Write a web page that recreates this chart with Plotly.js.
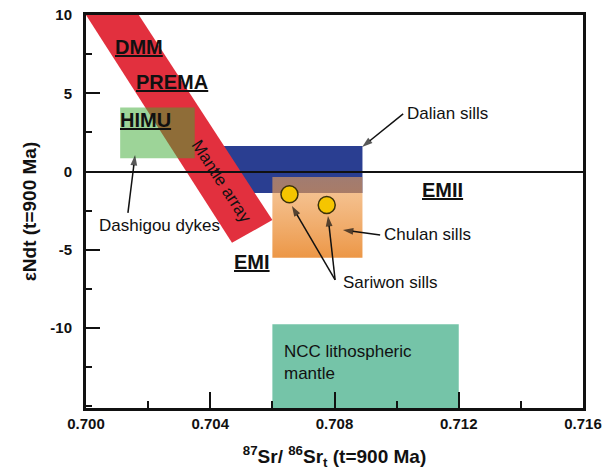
<!DOCTYPE html>
<html>
<head>
<meta charset="utf-8">
<script src="https://cdn.plot.ly/plotly-3.0.1.min.js"></script>
<style>html,body{margin:0;padding:0;background:#fff;}#chart{width:613px;height:472px;}</style>
</head>
<body>
<div id="chart"></div>
<script>
// ---- axis ----
const xRange = [0.700, 0.716];
const yRange = [-15.1, 10];
const xTickVals = [0.700, 0.704, 0.708, 0.712, 0.716];
const xTickText = ['0.700', '0.704', '0.708', '0.712', '0.716'];
const yTickVals = [-10, -5, 0, 5, 10];
const yTickText = ['-10', '-5', '0', '5', '10'];

// ---- fields (87Sr/86Sr, eNd) ----
const mantleArrayX = [0.7000, 0.7017, 0.7060, 0.7047];
const mantleArrayY = [10, 10, -3.1, -4.55];
const dashigouX = [0.7011, 0.7035];
const dashigouY = [0.85, 4.1];
const dalianX = [0.7038, 0.7089];
const dalianY = [-1.37, 1.63];
const chulanX = [0.7060, 0.7089];
const chulanY = [-5.5, -0.35];
const nccX = [0.706, 0.712];
const nccY = [-15.1, -9.75];

// ---- Sariwon sills samples ----
const sariwonX = [0.70655, 0.70775];
const sariwonY = [-1.45, -2.13];

// ---- end-member labels ----
const memberText = ['DMM', 'PREMA', 'HIMU', 'EMII', 'EMI'];
const memberX = [0.70171, 0.70277, 0.70190, 0.71149, 0.70534];
const memberY = [7.96, 5.72, 3.29, -1.18, -5.77];

// ---- notes ----
const noteText = ['Dalian sills', 'Chulan sills', 'Sariwon sills', 'Dashigou dykes'];
const noteX = [0.71164, 0.71098, 0.70980, 0.70237];
const noteY = [3.74, -4.05, -7.11, -3.47];

// ---- arrows (tail -> head) ----
const arrowTailX = [0.71021, 0.70947, 0.70802, 0.70802, 0.70135];
const arrowTailY = [3.68, -4.05, -6.92, -6.92, -2.64];
const arrowHeadX = [0.70889, 0.70827, 0.70663, 0.70779, 0.70158];
const arrowHeadY = [1.57, -3.73, -2.20, -2.84, 1.06];

const mantleLabel = 'Mantle array';
const mantleLabelX = 0.70436;
const mantleLabelY = -0.63;
const nccLabel = 'NCC lithospheric<br>mantle';
const nccLabelX = 0.70631;
const nccLabelY = -12.22;

const sans = 'Liberation Sans, Arial, sans-serif';

function rect(xs, ys, color) {
  return {
    type: 'rect', xref: 'x', yref: 'y',
    x0: xs[0], x1: xs[1], y0: ys[0], y1: ys[1],
    fillcolor: color, line: {width: 0}, layer: 'below'
  };
}
function polyPath(xs, ys) {
  return xs.map((x, i) => (i ? 'L' : 'M') + x + ',' + ys[i]).join(' ') + ' Z';
}

const shapes = [
  rect(dalianX, dalianY, 'rgb(42,62,145)'),
  {type: 'path', xref: 'x', yref: 'y', path: polyPath(mantleArrayX, mantleArrayY),
   fillcolor: 'rgb(226,48,62)', line: {width: 0}, layer: 'below'},
  rect(dashigouX, dashigouY, 'rgba(60,170,50,0.5)'),
  rect(nccX, nccY, 'rgb(117,196,168)')
];

const traces = [];
traces.push({
  type: 'scatter', mode: 'lines', hoverinfo: 'skip', showlegend: false,
  x: [chulanX[0], chulanX[1], chulanX[1], chulanX[0], chulanX[0]],
  y: [chulanY[0], chulanY[0], chulanY[1], chulanY[1], chulanY[0]],
  line: {width: 0, color: 'rgba(0,0,0,0)'},
  fill: 'toself',
  fillgradient: {type: 'vertical',
    colorscale: [[0, 'rgba(232,128,30,0.82)'], [1, 'rgba(240,165,92,0.6)']]}
});
arrowTailX.forEach((tx, i) => traces.push({
  type: 'scatter', mode: 'lines+markers', hoverinfo: 'skip', showlegend: false,
  x: [tx, arrowHeadX[i]], y: [arrowTailY[i], arrowHeadY[i]],
  line: {color: '#111', width: 1.5},
  marker: {symbol: ['circle', 'arrow'], size: [0, 11], angleref: 'previous',
           color: '#111', line: {width: 0}}
}));
traces.push({
  type: 'scatter', mode: 'markers', showlegend: false, hoverinfo: 'skip',
  x: sariwonX, y: sariwonY,
  marker: {size: 17, color: 'rgb(245,197,0)', line: {color: 'rgb(60,50,10)', width: 1.5}}
});

const annotations = [];
memberText.forEach((t, i) => annotations.push({
  x: memberX[i], y: memberY[i], xref: 'x', yref: 'y', text: t, showarrow: false,
  font: {family: sans, size: 20, weight: 700, color: '#111', lineposition: 'under'}
}));
noteText.forEach((t, i) => annotations.push({
  x: noteX[i], y: noteY[i], xref: 'x', yref: 'y', text: t, showarrow: false,
  font: {family: sans, size: 17, color: '#111'}
}));
annotations.push({
  x: mantleLabelX, y: mantleLabelY, xref: 'x', yref: 'y', text: mantleLabel,
  showarrow: false, textangle: 57, font: {family: sans, size: 17, color: '#111'}
});
annotations.push({
  x: nccLabelX, y: nccLabelY, xref: 'x', yref: 'y', text: nccLabel,
  showarrow: false, xanchor: 'left', align: 'left', font: {family: sans, size: 17, color: '#111'}
});

const layout = {
  width: 613, height: 472,
  margin: {l: 86, r: 30, t: 15, b: 64},
  paper_bgcolor: '#fff', plot_bgcolor: '#fff',
  showlegend: false,
  font: {family: sans, color: '#111'},
  xaxis: {
    range: xRange, tickmode: 'array', tickvals: xTickVals, ticktext: xTickText,
    ticks: 'inside', ticklen: 16, tickwidth: 2, tickcolor: '#111',
    minor: {dtick: 0.002, tick0: 0.700, ticks: 'inside', ticklen: 7, tickwidth: 2, tickcolor: '#111'},
    showline: true, linewidth: 3, linecolor: '#111', mirror: true,
    showgrid: false, zeroline: false,
    tickfont: {family: sans, size: 15, weight: 700, color: '#111'},
    title: {text: '<sup>87</sup>Sr/ <sup>86</sup>Sr<sub>t</sub> (t=900 Ma)', standoff: 19,
            font: {family: sans, size: 19, weight: 700, color: '#111'}}
  },
  yaxis: {
    range: yRange, tickmode: 'array', tickvals: yTickVals, ticktext: yTickText,
    ticks: 'inside', ticklen: 14, tickwidth: 2, tickcolor: '#111',
    minor: {dtick: 2.5, tick0: 0, ticks: 'inside', ticklen: 6, tickwidth: 2, tickcolor: '#111'},
    showline: true, linewidth: 3, linecolor: '#111', mirror: true,
    showgrid: false, zeroline: true, zerolinewidth: 2, zerolinecolor: '#111',
    ticklabelstandoff: 8,
    tickfont: {family: sans, size: 15, weight: 700, color: '#111'},
    title: {text: 'εNdt (t=900 Ma)', standoff: 9,
            font: {family: sans, size: 19, weight: 700, color: '#111'}}
  },
  shapes: shapes,
  annotations: annotations
};

Plotly.newPlot('chart', traces, layout, {displayModeBar: false, staticPlot: true});
</script>
</body>
</html>
